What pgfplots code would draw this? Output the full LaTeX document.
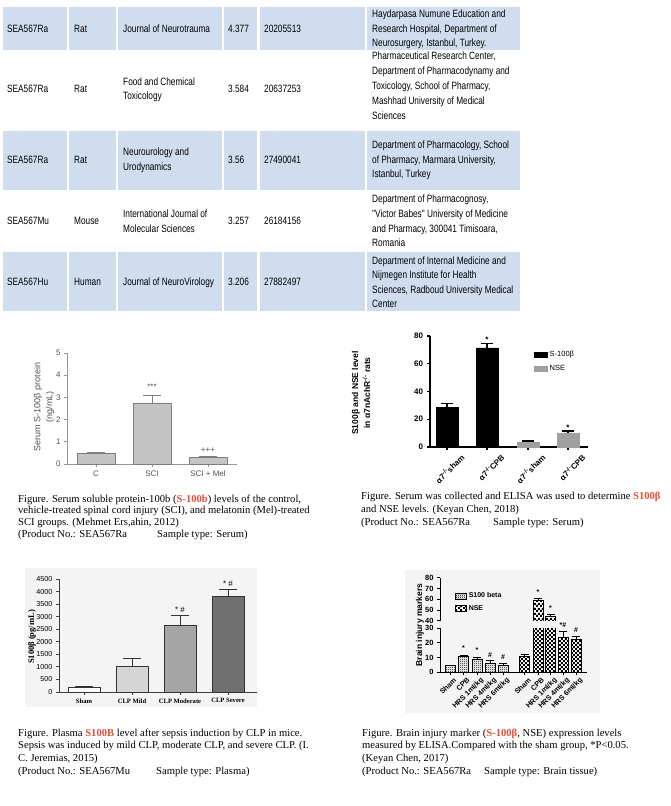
\documentclass[border=0pt]{standalone}
\usepackage{pgfplots}
\pgfplotsset{compat=1.18}
\usetikzlibrary{patterns}
\usepackage{fontspec}
\setmainfont{Liberation Serif}
\setsansfont{Liberation Sans}
\newfontfamily\tabfont[FakeStretch=0.78]{Liberation Sans}
\definecolor{tblue}{RGB}{207,221,239}
\definecolor{capred}{RGB}{230,76,56}
\definecolor{cOneAxis}{RGB}{150,150,150}
\definecolor{cOneText}{RGB}{80,80,80}
\definecolor{cOneBar}{RGB}{196,196,196}
\definecolor{cOneEdge}{RGB}{125,125,125}
\definecolor{cTwoGray}{RGB}{160,160,160}
\definecolor{bgGray}{RGB}{244,244,244}
\definecolor{cThrA}{RGB}{255,255,255}
\definecolor{cThrB}{RGB}{214,214,214}
\definecolor{cThrC}{RGB}{165,165,165}
\definecolor{cThrD}{RGB}{112,112,112}
\pgfdeclarepatternformonly{nsecheck}{\pgfpointorigin}{\pgfqpoint{4.4pt}{4.4pt}}{\pgfqpoint{4.4pt}{4.4pt}}{%
 \pgfpathrectangle{\pgfpointorigin}{\pgfqpoint{2.2pt}{2.2pt}}%
 \pgfpathrectangle{\pgfqpoint{2.2pt}{2.2pt}}{\pgfqpoint{2.2pt}{2.2pt}}%
 \pgfusepath{fill}}
\pgfdeclarepatternformonly{sdots}{\pgfpointorigin}{\pgfqpoint{2pt}{2pt}}{\pgfqpoint{2pt}{2pt}}{%
 \pgfpathrectangle{\pgfpointorigin}{\pgfqpoint{1pt}{1pt}}%
 \pgfpathrectangle{\pgfqpoint{1pt}{1pt}}{\pgfqpoint{1pt}{1pt}}%
 \pgfusepath{fill}}
\newcommand\fs[1]{\fontsize{#1}{#1}\selectfont}
\newcommand\tabtxt[3]{\node[anchor=mid west,inner sep=0pt,font=\tabfont\fs{10.6}] at (#1,#2) {#3};}
\newcommand\captxt[3]{\node[anchor=mid west,inner sep=0pt,font=\rmfamily\fs{10.6}] at (#1,#2) {#3};}
\newcommand\redt[1]{\textcolor{capred}{\textbf{#1}}}
\begin{document}
\begin{tikzpicture}[x=1pt,y=1pt]
\useasboundingbox (0,0) rectangle (671,806);
\coordinate (pA) at (67,342);
\coordinate (pB) at (430,359);
\coordinate (pC) at (59,114);
\coordinate (pD) at (440,133.7);
\coordinate (pE) at (440,185);
\begin{scope}[shift={(0,806)},yscale=-1]
\foreach \a/\b in {3/67,69/116,118/222,224/257,260/365,367/520}{
 \fill[tblue] (\a,7) rectangle (\b,50);
 \fill[tblue] (\a,131.5) rectangle (\b,190);
 \fill[tblue] (\a,252.5) rectangle (\b,311.5);
}
% row 1
\tabtxt{7}{30}{SEA567Ra}\tabtxt{74}{30}{Rat}\tabtxt{123}{30}{Journal of Neurotrauma}
\tabtxt{228}{30}{4.377}\tabtxt{264}{30}{20205513}
\tabtxt{372}{15}{Haydarpasa Numune Education and}
\tabtxt{372}{30}{Research Hospital, Department of}
\tabtxt{372}{44.5}{Neurosurgery, Istanbul, Turkey.}
% row 2
\tabtxt{7}{90}{SEA567Ra}\tabtxt{74}{90}{Rat}
\tabtxt{123}{83}{Food and Chemical}\tabtxt{123}{97.5}{Toxicology}
\tabtxt{228}{90}{3.584}\tabtxt{264}{90}{20637253}
\tabtxt{372}{57}{Pharmaceutical Research Center,}
\tabtxt{372}{72}{Department of Pharmacodynamy and}
\tabtxt{372}{87}{Toxicology, School of Pharmacy,}
\tabtxt{372}{102}{Mashhad University of Medical}
\tabtxt{372}{117}{Sciences}
% row 3
\tabtxt{7}{161}{SEA567Ra}\tabtxt{74}{161}{Rat}
\tabtxt{123}{153}{Neurourology and}\tabtxt{123}{168}{Urodynamics}
\tabtxt{228}{161}{3.56}\tabtxt{264}{161}{27490041}
\tabtxt{372}{146}{Department of Pharmacology, School}
\tabtxt{372}{161}{of Pharmacy, Marmara University,}
\tabtxt{372}{175.5}{Istanbul, Turkey}
% row 4
\tabtxt{7}{222}{SEA567Mu}\tabtxt{74}{222}{Mouse}
\tabtxt{123}{215}{International Journal of}\tabtxt{123}{230}{Molecular Sciences}
\tabtxt{228}{222}{3.257}\tabtxt{264}{222}{26184156}
\tabtxt{372}{200}{Department of Pharmacognosy,}
\tabtxt{372}{215}{"Victor Babes" University of Medicine}
\tabtxt{372}{230}{and Pharmacy, 300041 Timisoara,}
\tabtxt{372}{244}{Romania}
% row 5
\tabtxt{7}{283}{SEA567Hu}\tabtxt{74}{283}{Human}\tabtxt{123}{283}{Journal of NeuroVirology}
\tabtxt{228}{283}{3.206}\tabtxt{264}{283}{27882497}
\tabtxt{372}{262}{Department of Internal Medicine and}
\tabtxt{372}{276.5}{Nijmegen Institute for Health}
\tabtxt{372}{291}{Sciences, Radboud University Medical}
\tabtxt{372}{305.5}{Center}
% backgrounds
\fill[bgGray] (25,568) rectangle (257,707);
\fill[bgGray] (405,570) rectangle (600,713);
% y labels
\node[rotate=90,align=center,font=\sffamily\fontsize{9}{12}\selectfont,text=cOneText] at (44,407) {Serum S-100β protein\\(ng/mL)};
\node[rotate=90,align=center,font=\sffamily\bfseries\fontsize{8.5}{12}\selectfont] at (361,393) {S100β and NSE level\\in α7nAchR\textsuperscript{-/-} rats};
\node[rotate=90,font=\rmfamily\bfseries\fs{8.5}] at (32,637) {S100β (pg/mL)};
\node[rotate=90,font=\sffamily\bfseries\fs{8.5}] at (420,625) {Brain injury markers};
% captions
\captxt{18}{500}{Figure. Serum soluble protein-100b (\redt{S-100b}) levels of the control,}
\captxt{18}{511.7}{vehicle-treated spinal cord injury (SCI), and melatonin (Mel)-treated}
\captxt{18}{523.3}{SCI groups. (Mehmet Ers,ahin, 2012)}
\captxt{18}{535}{(Product No.: SEA567Ra}\captxt{157}{535}{Sample type: Serum)}
\captxt{361}{497.5}{Figure. Serum was collected and ELISA was used to determine \redt{S100β}}
\captxt{361}{510.5}{and NSE levels. (Keyan Chen, 2018)}
\captxt{361}{523}{(Product No.: SEA567Ra}\captxt{493}{523}{Sample type: Serum)}
\captxt{18}{734}{Figure. Plasma \redt{S100B} level after sepsis induction by CLP in mice.}
\captxt{18}{746.7}{Sepsis was induced by mild CLP, moderate CLP, and severe CLP. (I.}
\captxt{18}{759.3}{C. Jeremias, 2015)}
\captxt{18}{772}{(Product No.: SEA567Mu}\captxt{156}{772}{Sample type: Plasma)}
\captxt{362}{734}{Figure. Brain injury marker (\redt{S-100β}, NSE) expression levels}
\captxt{362}{746.7}{measured by ELISA.Compared with the sham group, *P<0.05.}
\captxt{362}{759.3}{(Keyan Chen, 2017)}
\captxt{362}{772}{(Product No.: SEA567Ra}\captxt{484}{772}{Sample type: Brain tissue)}
\end{scope}

% ---------- Chart 1 ----------
\begin{axis}[at={(pA)},anchor=south west,scale only axis,width=170pt,height=111pt,
 xmin=67,xmax=237,ymin=0,ymax=5,enlargelimits=false,
 axis x line*=bottom,axis y line*=left,axis line style={-,draw=cOneAxis,line width=0.8pt},
 tick align=outside,major tick length=3pt,tick style={draw=cOneAxis,line width=0.8pt},
 ytick={0,1,2,3,4,5},xtick={96,152,208},xticklabels={C,SCI,SCI + Mel},
 /pgf/number format/assume math mode=true,
 tick label style={font=\sffamily\fs{8},text=cOneText},clip=false]
\addplot[ybar,bar width=38pt,bar shift=0pt,fill=cOneBar,draw=cOneEdge,line width=0.8pt,
 error bars/.cd,y dir=plus,y explicit,error bar style={draw=cOneEdge,line width=0.8pt},
 error mark options={rotate=90,draw=cOneEdge,line width=0.8pt,mark size=9pt}]
 coordinates {(96,0.47) +- (0,0.04) (152,2.75) +- (0,0.32) (208,0.31) +- (0,0.03)};
\node[font=\sffamily\fs{8},text=cOneText] at (axis cs:152,3.47) {***};
\node[font=\sffamily\fs{8},text=cOneText] at (axis cs:208,0.6) {+++};
\end{axis}

% ---------- Chart 2 ----------
\begin{axis}[at={(pB)},anchor=south west,scale only axis,width=158pt,height=111pt,
 xmin=430,xmax=588,ymin=0,ymax=80,enlargelimits=false,
 axis x line*=bottom,axis y line*=left,axis line style={-,line width=1.1pt},
 tick align=outside,major tick length=3.5pt,tick style={line width=1.1pt,black},
 ytick={0,20,40,60,80},xtick={447,487,528,568},
 xticklabels={α7\textsuperscript{-/-}sham,α7\textsuperscript{-/-}CPB,α7\textsuperscript{-/-}sham,α7\textsuperscript{-/-}CPB},
 xticklabel style={xshift=13pt,yshift=-1pt,rotate=45,anchor=north east,inner sep=1pt,font=\sffamily\bfseries\fs{8}},
 yticklabel style={font=\sffamily\bfseries\fs{8}},
 /pgf/number format/assume math mode=true,
 legend cell align=left,
 legend style={at={(axis description cs:0.64,0.90)},anchor=north west,draw=none,fill=none,font=\sffamily\fs{7.5},row sep=3pt},
 legend image code/.code={\draw[#1] (0pt,-2.5pt) rectangle (13pt,2.5pt);},
 clip=false]
\addplot[ybar,bar width=22pt,bar shift=0pt,fill=black,draw=black,
 error bars/.cd,y dir=plus,y explicit,error bar style={line width=1.1pt},error mark options={rotate=90,line width=1.1pt,mark size=6pt}]
 coordinates {(447,28.8) +- (0,2.7) (487,71.4) +- (0,3.2)};
\addlegendentry{S-100β}
\addplot[ybar,bar width=22pt,bar shift=0pt,fill=cTwoGray,draw=cTwoGray,
 error bars/.cd,y dir=plus,y explicit,error bar style={line width=1.1pt,black},error mark options={rotate=90,line width=1.1pt,mark size=6pt,black}]
 coordinates {(528,3.4) +- (0,0.9) (568,10.1) +- (0,1.4)};
\addlegendentry{NSE}
\node[font=\sffamily\bfseries\fs{8}] at (axis cs:487,77.5) {*};
\node[font=\sffamily\bfseries\fs{8}] at (axis cs:568,13.8) {*};
\end{axis}

% ---------- Chart 3 ----------
\begin{axis}[at={(pC)},anchor=south west,scale only axis,width=198pt,height=113pt,
 xmin=59,xmax=257,ymin=0,ymax=4500,enlargelimits=false,
 axis x line*=bottom,axis y line*=left,axis line style={-,line width=0.8pt,draw=black!75},
 tick align=outside,major tick length=3pt,tick style={line width=0.8pt,black!75},
 ytick={0,500,1000,1500,2000,2500,3000,3500,4000,4500},xtick={84,132,180,228},
 xticklabels={Sham,CLP Mild,CLP Moderate,CLP Severe},
 xticklabel style={font=\rmfamily\bfseries\fs{6.6}},
 yticklabel style={font=\sffamily\fs{7.2}},
 scaled y ticks=false,/pgf/number format/1000 sep={},
 /pgf/number format/assume math mode=true,clip=false]
\addplot[ybar,bar width=32pt,bar shift=0pt,fill=cThrA,draw=black!80,line width=0.9pt,
 error bars/.cd,y dir=plus,y explicit,error bar style={line width=0.9pt,black!80},error mark options={rotate=90,line width=0.9pt,mark size=9pt,black!80}]
 coordinates {(84,190) +- (0,20)};
\addplot[ybar,bar width=32pt,bar shift=0pt,fill=cThrB,draw=black!80,line width=0.9pt,
 error bars/.cd,y dir=plus,y explicit,error bar style={line width=0.9pt,black!80},error mark options={rotate=90,line width=0.9pt,mark size=9pt,black!80}]
 coordinates {(132,1000) +- (0,350)};
\addplot[ybar,bar width=32pt,bar shift=0pt,fill=cThrC,draw=black!80,line width=0.9pt,
 error bars/.cd,y dir=plus,y explicit,error bar style={line width=0.9pt,black!80},error mark options={rotate=90,line width=0.9pt,mark size=9pt,black!80}]
 coordinates {(180,2670) +- (0,380)};
\addplot[ybar,bar width=32pt,bar shift=0pt,fill=cThrD,draw=black!80,line width=0.9pt,
 error bars/.cd,y dir=plus,y explicit,error bar style={line width=0.9pt,black!80},error mark options={rotate=90,line width=0.9pt,mark size=9pt,black!80}]
 coordinates {(228,3800) +- (0,290)};
\node[font=\sffamily\fs{8}] at (axis cs:180,3260) {* \#};
\node[font=\sffamily\fs{8}] at (axis cs:228,4310) {* \#};
\end{axis}

% ---------- Chart 4 lower ----------
\begin{axis}[at={(pD)},anchor=south west,scale only axis,width=147pt,height=44pt,
 xmin=440,xmax=587,ymin=0,ymax=30,enlargelimits=false,
 axis x line*=bottom,axis y line*=left,axis line style={-,line width=1pt},
 tick align=outside,major tick length=3pt,tick style={line width=1pt,black},
 ytick={0,10,20,30},
 xtick={450,463.5,477,490,503,524.7,538,550.5,563,576},
 xticklabels={Sham,CPB,HRS 1ml/kg,HRS 4ml/kg,HRS 6ml/kg,Sham,CPB,HRS 1ml/kg,HRS 4ml/kg,HRS 6ml/kg},
 xticklabel style={xshift=3pt,rotate=45,anchor=north east,inner sep=1pt,font=\sffamily\bfseries\fs{7.2}},
 yticklabel style={font=\sffamily\bfseries\fs{7.5}},
 /pgf/number format/assume math mode=true,
 legend cell align=left,
 legend style={at={(axis description cs:0.08,1.90)},anchor=north west,draw=none,fill=none,font=\sffamily\bfseries\fs{7},row sep=2pt},
 legend image code/.code={\draw[#1] (0pt,-2.8pt) rectangle (11pt,2.8pt);},
 clip mode=individual,clip marker paths=true]
\addplot[ybar,bar width=10pt,bar shift=0pt,fill=white,postaction={pattern=sdots},draw=black,line width=0.8pt,
 error bars/.cd,y dir=plus,y explicit,error bar style={line width=0.8pt},error mark options={rotate=90,line width=0.8pt,mark size=4pt}]
 coordinates {(450,4.4) +- (0,0.6) (463.5,10.6) +- (0,0.8) (477,8.8) +- (0,1.4) (490,6.2) +- (0,1.6) (503,4.8) +- (0,1.4)};
\addlegendentry{S100 beta}
\addplot[ybar,bar width=10pt,bar shift=0pt,fill=white,postaction={pattern=nsecheck},draw=black,line width=0.8pt,
 error bars/.cd,y dir=plus,y explicit,error bar style={line width=0.8pt},error mark options={rotate=90,line width=0.8pt,mark size=4pt}]
 coordinates {(524.7,10.6) +- (0,1.6) (538,58.9) +- (0,1.6) (550.5,44.4) +- (0,2.0) (563,23.8) +- (0,4.0) (576,22.4) +- (0,2.0)};
\addlegendentry{NSE}
\node[font=\sffamily\bfseries\fs{7}] at (axis cs:463.5,16.4) {*};
\node[font=\sffamily\bfseries\fs{7}] at (axis cs:477,15.0) {*};
\node[font=\sffamily\bfseries\fs{7}] at (axis cs:490,12.0) {\#};
\node[font=\sffamily\bfseries\fs{7}] at (axis cs:503,10.6) {\#};
\node[font=\sffamily\bfseries\fs{7}] at (axis cs:563,32.0) {*\#};
\node[font=\sffamily\bfseries\fs{7}] at (axis cs:576,28.8) {\#};
\end{axis}

% ---------- Chart 4 upper (bars reaching above the break) ----------
\begin{axis}[at={(pE)},anchor=south west,scale only axis,width=147pt,height=43.3pt,
 xmin=440,xmax=587,ymin=40,ymax=80,enlargelimits=false,
 axis y line*=left,hide x axis,xtick=\empty,axis line style={-,line width=1pt},
 tick align=outside,major tick length=3pt,tick style={line width=1pt,black},
 ytick={40,50,60,70,80},
 yticklabel style={font=\sffamily\bfseries\fs{7.5}},
 /pgf/number format/assume math mode=true,
 clip marker paths=true]
\addplot[ybar,bar width=10pt,bar shift=0pt,fill=white,postaction={pattern=nsecheck},draw=black,line width=0.8pt,
 error bars/.cd,y dir=plus,y explicit,error bar style={line width=0.8pt},error mark options={rotate=90,line width=0.8pt,mark size=4pt}]
 coordinates {(538,58.9) +- (0,1.6) (550.5,44.4) +- (0,2.0)};
\node[font=\sffamily\bfseries\fs{7}] at (axis cs:538,66.8) {*};
\node[font=\sffamily\bfseries\fs{7}] at (axis cs:550.5,52.0) {*};
\end{axis}
\end{tikzpicture}
\end{document}
